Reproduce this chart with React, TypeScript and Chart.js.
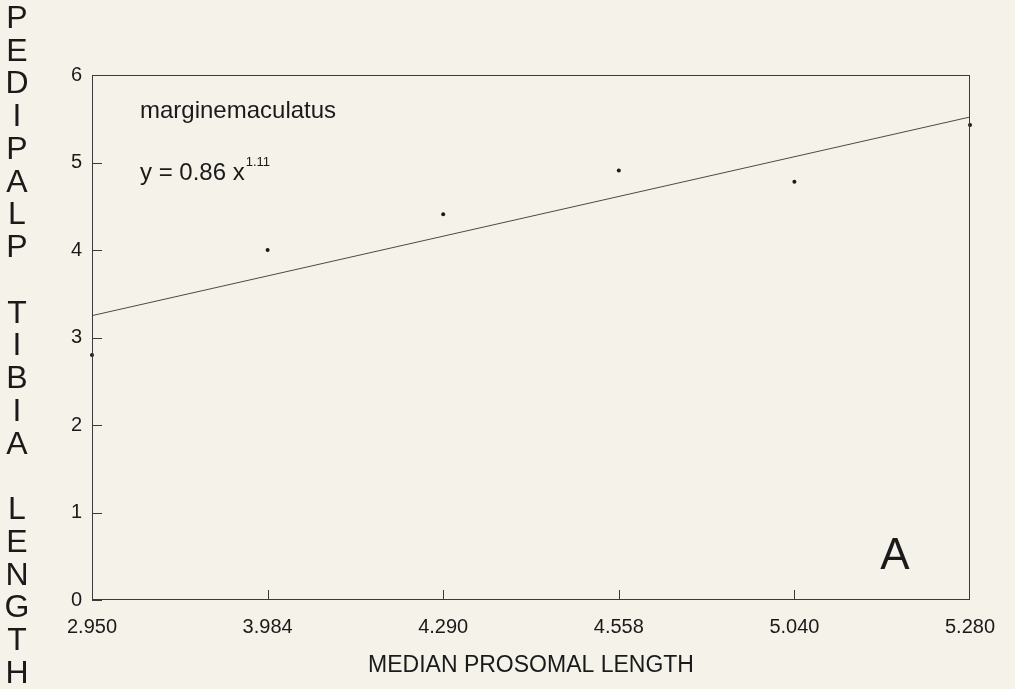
import React, { useEffect, useRef } from 'react';
import { Chart, registerables } from 'chart.js';

Chart.register(...registerables);

const categories = ['2.950', '3.984', '4.290', '4.558', '5.040', '5.280'];
const tibiaLength = [2.8, 4.0, 4.41, 4.91, 4.78, 5.43];
const fitLine = [3.25, null, null, null, null, 5.52];
const yTickValues = [0, 1, 2, 3, 4, 5, 6];
const yTitle = 'PEDIPALP TIBIA LENGTH';
const xTitle = 'MEDIAN PROSOMAL LENGTH';
const speciesName = 'marginemaculatus';
const equationBase = 'y = 0.86 x';
const equationExp = '1.11';
const panelLetter = 'A';

const FONT = '"Liberation Sans", Arial, Helvetica, sans-serif';
const BG = '#f4f2e9';
const INK = '#1a1a1a';

const decorPlugin = {
  id: 'decor',
  afterDraw(chart: any) {
    const { ctx, chartArea } = chart;
    const { left, right, top, bottom } = chartArea;
    const xs = chart.scales.x;
    const ys = chart.scales.y;
    ctx.save();
    // frame
    ctx.strokeStyle = '#3a3a3a';
    ctx.lineWidth = 1;
    ctx.strokeRect(left + 0.5, top + 0.5, right - left - 1, bottom - top - 1);
    // inward y ticks
    yTickValues.forEach((v) => {
      const y = Math.round(ys.getPixelForValue(v)) + 0.5;
      ctx.beginPath();
      ctx.moveTo(left, y);
      ctx.lineTo(left + 10, y);
      ctx.stroke();
    });
    // inward x ticks
    categories.forEach((_, i) => {
      if (i === 0 || i === categories.length - 1) return;
      const x = Math.round(xs.getPixelForValue(i)) + 0.5;
      ctx.beginPath();
      ctx.moveTo(x, bottom);
      ctx.lineTo(x, bottom - 10);
      ctx.stroke();
    });
    ctx.fillStyle = INK;
    // vertical stacked y title
    ctx.font = `32px ${FONT}`;
    ctx.textAlign = 'center';
    ctx.textBaseline = 'middle';
    const chars = yTitle.split('');
    const step = (674 - 19) / (chars.length - 1);
    chars.forEach((c, i) => {
      if (c !== ' ') ctx.fillText(c, 17, 19 + i * step);
    });
    // annotations
    ctx.textAlign = 'left';
    ctx.textBaseline = 'alphabetic';
    ctx.font = `24px ${FONT}`;
    ctx.fillText(speciesName, 140, 118);
    ctx.fillText(equationBase, 140, 180);
    const w = ctx.measureText(equationBase).width;
    ctx.font = `13px ${FONT}`;
    ctx.fillText(equationExp, 140 + w + 1, 166);
    ctx.font = `44px ${FONT}`;
    ctx.textAlign = 'center';
    ctx.fillText(panelLetter, 895, 569);
    ctx.restore();
  },
};

export default function App() {
  const canvasRef = useRef<HTMLCanvasElement | null>(null);

  useEffect(() => {
    if (!canvasRef.current) return;
    const chart = new Chart(canvasRef.current, {
      type: 'line',
      data: {
        labels: categories,
        datasets: [
          {
            label: 'observed',
            data: tibiaLength,
            showLine: false,
            pointRadius: 2,
            pointHoverRadius: 2,
            pointBackgroundColor: INK,
            pointBorderWidth: 0,
            borderColor: INK,
          },
          {
            label: 'fit',
            data: fitLine as any,
            spanGaps: true,
            borderColor: '#4a4a4a',
            borderWidth: 1,
            pointRadius: 0,
            fill: false,
            tension: 0,
          },
        ],
      },
      options: {
        animation: false,
        responsive: true,
        maintainAspectRatio: false,
        layout: { padding: { top: 75, right: 45, left: 0, bottom: 0 } },
        plugins: {
          legend: { display: false },
          tooltip: { enabled: false },
          title: { display: false },
        },
        scales: {
          x: {
            type: 'category',
            offset: false,
            grid: { display: false, drawTicks: false },
            border: { display: false },
            ticks: {
              color: INK,
              font: { family: FONT, size: 20 },
              padding: 15,
              maxRotation: 0,
              autoSkip: false,
            },
            title: {
              display: true,
              text: xTitle,
              color: INK,
              font: { family: FONT, size: 23 },
              padding: { top: 0, bottom: 10 },
            },
            afterFit(scale: any) {
              scale.height = 89;
            },
          },
          y: {
            min: 0,
            max: 6,
            grid: { display: false, drawTicks: false },
            border: { display: false },
            ticks: {
              stepSize: 1,
              color: INK,
              font: { family: FONT, size: 20 },
              padding: 10,
            },
            afterFit(scale: any) {
              scale.width = 92;
            },
          },
        },
      },
      plugins: [decorPlugin],
    });
    return () => chart.destroy();
  }, []);

  return (
    <div
      style={{
        position: 'absolute',
        left: 0,
        top: 0,
        width: 1015,
        height: 689,
        background: BG,
      }}
    >
      <canvas ref={canvasRef} />
    </div>
  );
}
